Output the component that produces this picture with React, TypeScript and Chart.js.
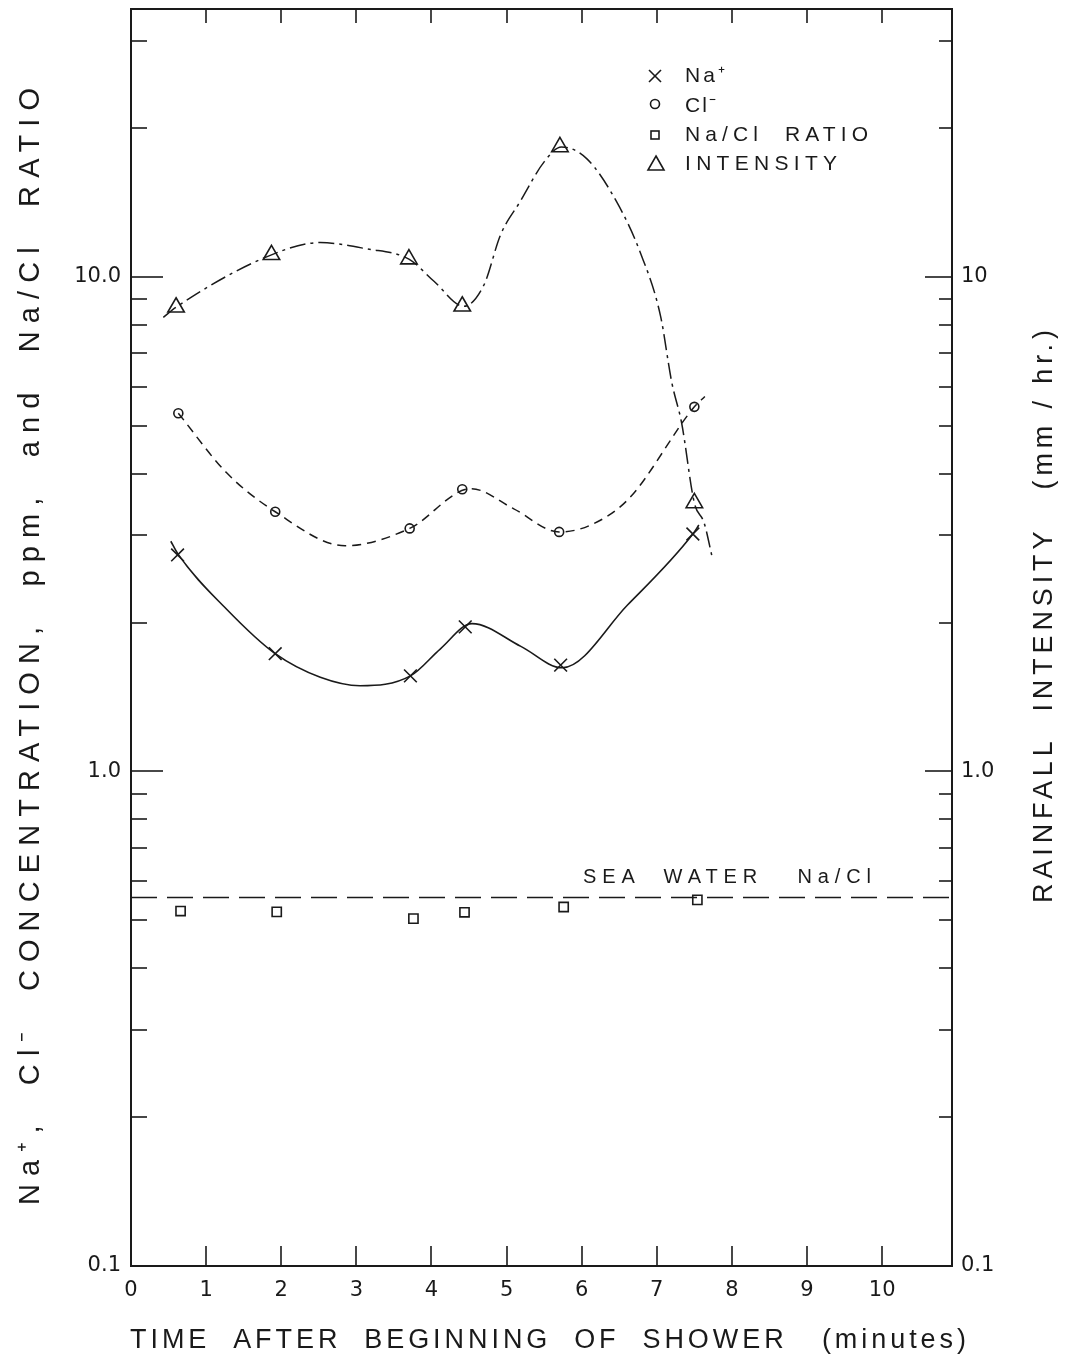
import React, { useEffect, useRef } from 'react';
import { Chart, registerables } from 'chart.js';

Chart.register(...registerables);

// ---------- data ----------
// Na+ concentration (ppm), markers
const naTime = [0.62, 1.92, 3.72, 4.45, 5.72, 7.48];
const naConc = [2.74, 1.73, 1.56, 1.96, 1.64, 3.02];
// Cl- concentration (ppm), markers
const clTime = [0.63, 1.92, 3.71, 4.41, 5.70, 7.50];
const clConc = [5.30, 3.35, 3.10, 3.72, 3.05, 5.46];
// Na/Cl ratio, markers
const ratioTime = [0.66, 1.94, 3.76, 4.44, 5.76, 7.54];
const ratioValue = [0.522, 0.520, 0.504, 0.519, 0.532, 0.550];
// Rainfall intensity (mm/hr), markers
const intensityTime = [0.60, 1.87, 3.70, 4.41, 5.71, 7.50];
const intensityValue = [8.68, 11.08, 10.86, 8.72, 18.31, 3.49];

// hand-drawn smooth curves
const naCurveTime = [0.53, 0.62, 1.27, 1.92, 2.52, 3.05, 3.72, 4.12, 4.54, 5.19, 5.74, 6.61, 7.48, 7.56];
const naCurveConc = [2.92, 2.76, 2.13, 1.73, 1.55, 1.49, 1.56, 1.77, 1.99, 1.79, 1.62, 2.17, 3.02, 3.15];
const clCurveTime = [0.63, 1.27, 1.92, 2.85, 3.71, 4.53, 5.09, 5.70, 6.10, 6.62, 7.50, 7.64];
const clCurveConc = [5.30, 4.02, 3.35, 2.86, 3.10, 3.73, 3.40, 3.05, 3.14, 3.55, 5.46, 5.73];
const intCurveTime = [0.43, 0.60, 1.87, 2.52, 3.14, 3.70, 4.03, 4.43, 4.70, 4.92, 5.18, 5.50, 5.73, 6.07, 6.47, 6.78, 7.05, 7.20, 7.33, 7.50, 7.63, 7.74];
const intCurveValue = [8.28, 8.68, 11.08, 11.73, 11.39, 10.86, 9.81, 8.72, 9.64, 12.16, 14.19, 17.08, 18.31, 17.32, 14.14, 11.20, 8.33, 6.11, 5.07, 3.49, 3.18, 2.70];

// sea water Na/Cl reference line
const seaWaterTime = [0, 10.93];
const seaWaterRatio = [0.556, 0.556];

// axes
const X_MIN = 0;
const X_MAX = 10.93;
const Y_MIN = 0.1;
const Y_MAX = 34.8;
const xTickValues = [0, 1, 2, 3, 4, 5, 6, 7, 8, 9, 10];
const yTickValues = [0.1, 0.2, 0.3, 0.4, 0.5, 0.6, 0.7, 0.8, 0.9, 1, 2, 3, 4, 5, 6, 7, 8, 9, 10, 20, 30];
const yMajorTicks = [0.1, 1, 10];
const yLeftLabels: Record<string, string> = { '0.1': '0.1', '1': '1.0', '10': '10.0' };
const yRightLabels: Record<string, string> = { '0.1': '0.1', '1': '1.0', '10': '10' };

// text
const xTitle = 'TIME  AFTER  BEGINNING  OF  SHOWER   (minutes)';
const yLeftTitle = 'Na\u207A,  Cl\u207B  CONCENTRATION,  ppm,  and  Na/Cl  RATIO';
const yRightTitle = 'RAINFALL  INTENSITY   (mm / hr.)';
const seaWaterLabel = 'SEA  WATER   Na/Cl';
const legendLabels = ['Na\u207A', 'Cl\u207B', 'Na/Cl  RATIO', 'INTENSITY'];

const INK = '#1a1a1a';
const FONT = '"Liberation Sans", Arial, sans-serif';
const TICK_FONT = '"DejaVu Sans", "Liberation Sans", sans-serif';

const W = 1057;
const H = 1348;

const pts = (xs: number[], ys: number[]) => xs.map((x, i) => ({ x, y: ys[i] }));

function spacedText(
  ctx: CanvasRenderingContext2D,
  text: string,
  x: number,
  y: number,
  length: number,
  font: string,
  vertical = false
) {
  ctx.save();
  ctx.font = font;
  ctx.fillStyle = INK;
  const anyCtx = ctx as any;
  if ('letterSpacing' in anyCtx) anyCtx.letterSpacing = '0px';
  const w = ctx.measureText(text).width;
  const n = Array.from(text).length;
  const s = n > 1 ? (length - w) / (n - 1) : 0;
  if ('letterSpacing' in anyCtx) anyCtx.letterSpacing = `${s}px`;
  ctx.textAlign = 'left';
  ctx.textBaseline = 'middle';
  if (vertical) {
    ctx.translate(x, y);
    ctx.rotate(-Math.PI / 2);
    ctx.fillText(text, 0, 0);
  } else {
    ctx.fillText(text, x, y);
  }
  ctx.restore();
}

function line(ctx: CanvasRenderingContext2D, x1: number, y1: number, x2: number, y2: number) {
  ctx.beginPath();
  ctx.moveTo(x1, y1);
  ctx.lineTo(x2, y2);
  ctx.stroke();
}

const framePlugin = {
  id: 'frameTicks',
  beforeDatasetsDraw(chart: any) {
    const { ctx, chartArea: a, scales } = chart;
    const xs = scales.x;
    const yl = scales.y;
    const yr = scales.y2;
    ctx.save();
    ctx.strokeStyle = INK;
    ctx.lineWidth = 2;
    ctx.strokeRect(a.left, a.top, a.right - a.left, a.bottom - a.top);
    ctx.lineWidth = 1.6;
    for (const v of yTickValues) {
      if (v <= Y_MIN) continue;
      const major = yMajorTicks.includes(v);
      const pl = Math.round(yl.getPixelForValue(v));
      line(ctx, a.left, pl, a.left + (major ? 32 : 16), pl);
      const pr = Math.round(yr.getPixelForValue(v));
      line(ctx, a.right, pr, a.right - (major ? 27 : 13), pr);
    }
    for (const v of xTickValues) {
      if (v <= X_MIN) continue;
      const px = Math.round(xs.getPixelForValue(v));
      line(ctx, px, a.bottom, px, a.bottom - 20);
      line(ctx, px, a.top, px, a.top + 14);
    }
    ctx.restore();
  },
  afterDraw(chart: any) {
    const { ctx } = chart;
    // axis titles
    spacedText(ctx, xTitle, 122, 1333, 836, `27px ${FONT}`);
    spacedText(ctx, yLeftTitle, 23, 1197, 1117, `29px ${FONT}`, true);
    spacedText(ctx, yRightTitle, 1037, 895, 573, `27px ${FONT}`, true);
    // sea water label
    spacedText(ctx, seaWaterLabel, 575, 869, 288, `20px ${FONT}`);
    // legend
    ctx.save();
    ctx.strokeStyle = INK;
    ctx.lineWidth = 1.6;
    const sx = 647;
    const rows = [68, 96, 127, 156];
    // ×
    line(ctx, sx - 6, rows[0] - 6, sx + 6, rows[0] + 6);
    line(ctx, sx - 6, rows[0] + 6, sx + 6, rows[0] - 6);
    // ○
    ctx.beginPath();
    ctx.arc(sx, rows[1], 4.5, 0, Math.PI * 2);
    ctx.stroke();
    // □
    ctx.strokeRect(sx - 4, rows[2] - 4, 8, 8);
    // △
    ctx.beginPath();
    ctx.moveTo(sx + 1, rows[3] - 8);
    ctx.lineTo(sx + 9, rows[3] + 6);
    ctx.lineTo(sx - 7, rows[3] + 6);
    ctx.closePath();
    ctx.stroke();
    ctx.restore();
    const widths = [40, 31, 183, 152];
    legendLabels.forEach((t, i) => spacedText(ctx, t, 677, rows[i] + (i === 1 ? 2 : 0), widths[i], `21px ${FONT}`));
  },
};

export default function App() {
  const ref = useRef<HTMLCanvasElement | null>(null);
  useEffect(() => {
    if (!ref.current) return;
    const tickFont = { family: TICK_FONT, size: 21 };
    const chart = new Chart(ref.current, {
      type: 'scatter',
      data: {
        datasets: [
          {
            label: 'Sea water Na/Cl',
            data: pts(seaWaterTime, seaWaterRatio),
            showLine: true,
            borderColor: INK,
            borderWidth: 1.6,
            borderDash: [26, 10],
            pointRadius: 0,
            yAxisID: 'y',
          },
          {
            label: 'Na+ curve',
            data: pts(naCurveTime, naCurveConc),
            showLine: true,
            borderColor: INK,
            borderWidth: 1.6,
            cubicInterpolationMode: 'monotone',
            pointRadius: 0,
            yAxisID: 'y',
          },
          {
            label: 'Cl- curve',
            data: pts(clCurveTime, clCurveConc),
            showLine: true,
            borderColor: INK,
            borderWidth: 1.5,
            borderDash: [9, 6],
            cubicInterpolationMode: 'monotone',
            pointRadius: 0,
            yAxisID: 'y',
          },
          {
            label: 'Intensity curve',
            data: pts(intCurveTime, intCurveValue),
            showLine: true,
            borderColor: INK,
            borderWidth: 1.5,
            borderDash: [16, 5, 3, 5],
            cubicInterpolationMode: 'monotone',
            pointRadius: 0,
            yAxisID: 'y2',
          },
          {
            label: 'Na+',
            data: pts(naTime, naConc),
            showLine: false,
            pointStyle: 'crossRot',
            pointRadius: 9,
            borderColor: INK,
            pointBorderWidth: 1.6,
            yAxisID: 'y',
          },
          {
            label: 'Cl-',
            data: pts(clTime, clConc),
            showLine: false,
            pointStyle: 'circle',
            pointRadius: 4.5,
            borderColor: INK,
            backgroundColor: '#ffffff',
            pointBorderWidth: 1.6,
            yAxisID: 'y',
          },
          {
            label: 'Na/Cl ratio',
            data: pts(ratioTime, ratioValue),
            showLine: false,
            pointStyle: 'rect',
            pointRadius: 6.5,
            borderColor: INK,
            backgroundColor: '#ffffff',
            pointBorderWidth: 1.6,
            yAxisID: 'y',
          },
          {
            label: 'Intensity',
            data: pts(intensityTime, intensityValue),
            showLine: false,
            pointStyle: 'triangle',
            pointRadius: 9.5,
            borderColor: INK,
            backgroundColor: '#ffffff',
            pointBorderWidth: 1.6,
            yAxisID: 'y2',
          },
        ],
      },
      options: {
        animation: false,
        responsive: false,
        maintainAspectRatio: false,
        devicePixelRatio: 1,
        layout: { autoPadding: false, padding: { top: 1, left: 0, right: 0, bottom: 0 } },
        plugins: { legend: { display: false }, tooltip: { enabled: false } },
        scales: {
          x: {
            type: 'linear',
            position: 'bottom',
            min: X_MIN,
            max: X_MAX,
            grid: { display: false, drawTicks: false },
            border: { display: false },
            afterBuildTicks: (s: any) => {
              s.ticks = xTickValues.map((v) => ({ value: v }));
            },
            afterFit: (s: any) => {
              s.height = 90;
              s.paddingLeft = 0;
              s.paddingRight = 0;
            },
            ticks: {
              autoSkip: false,
              maxRotation: 0,
              padding: 12,
              color: INK,
              font: tickFont,
              callback: (v: any) => String(v),
            },
          },
          y: {
            type: 'logarithmic',
            position: 'left',
            min: Y_MIN,
            max: Y_MAX,
            grid: { display: false, drawTicks: false },
            border: { display: false },
            afterBuildTicks: (s: any) => {
              s.ticks = yTickValues.map((v) => ({ value: v }));
            },
            afterFit: (s: any) => {
              s.width = 123;
              s.paddingTop = 0;
              s.paddingBottom = 0;
            },
            ticks: {
              autoSkip: false,
              padding: 10,
              color: INK,
              font: tickFont,
              callback: (v: any) => yLeftLabels[String(v)] ?? '',
            },
          },
          y2: {
            type: 'logarithmic',
            position: 'right',
            min: Y_MIN,
            max: Y_MAX,
            grid: { display: false, drawTicks: false },
            border: { display: false },
            afterBuildTicks: (s: any) => {
              s.ticks = yTickValues.map((v) => ({ value: v }));
            },
            afterFit: (s: any) => {
              s.width = 113;
              s.paddingTop = 0;
              s.paddingBottom = 0;
            },
            ticks: {
              autoSkip: false,
              padding: 9,
              color: INK,
              font: tickFont,
              callback: (v: any) => yRightLabels[String(v)] ?? '',
            },
          },
        },
      },
      plugins: [framePlugin],
    } as any);
    return () => chart.destroy();
  }, []);
  return (
    <div style={{ width: W, height: H, position: 'relative' }}>
      <canvas ref={ref} width={W} height={H} style={{ display: 'block', width: W, height: H }} />
    </div>
  );
}
